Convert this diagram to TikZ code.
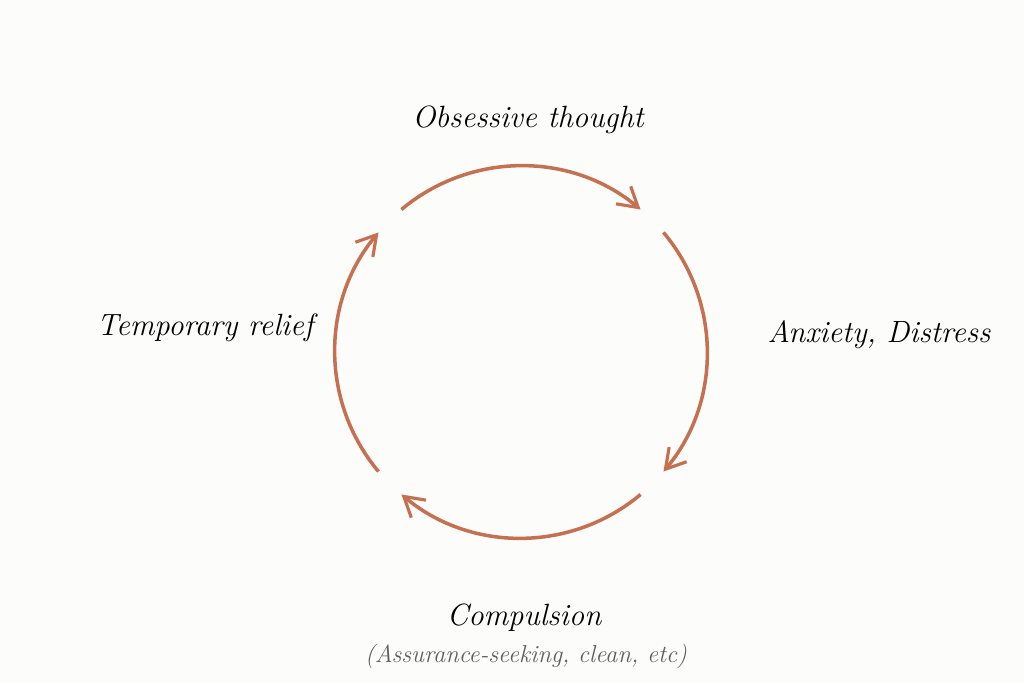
\documentclass[tikz,border=0pt]{standalone}
\usepackage{tikz}
\usetikzlibrary{arrows.meta}
\definecolor{cyccol}{RGB}{198,112,82}
\definecolor{paper}{RGB}{252,252,251}
\definecolor{note}{RGB}{95,95,95}

\begin{document}
\begin{tikzpicture}[x=0.02cm,y=0.02cm,
  cyc/.style={line width=2pt,draw=cyccol,-{Straight Barb[length=11pt,width=13pt,line width=1.8pt]}},
  lbl/.style={font=\itshape\fontsize{17.5}{20}\selectfont,text=black}]
\fill[paper] (0,0) rectangle (1024,683);
\useasboundingbox (0,0) rectangle (1024,683);
\coordinate (c) at (521,331);
\node[lbl] (obs) at (528,563) {Obsessive thought};
\node[lbl] (anx) at (879,348) {Anxiety, Distress};
\node[lbl] (rel) at (205,355) {Temporary relief};
\node[lbl] (com) at (524,65) {Compulsion};
\node[font=\itshape\fontsize{14}{16}\selectfont,text=note] (ex) at (526,27) {(Assurance-seeking, clean, etc)};
\draw[cyc] (c) ++(130:186) arc[start angle=130,end angle=50,radius=186];
\draw[cyc] (c) ++(40:186) arc[start angle=40,end angle=-40,radius=186];
\draw[cyc] (c) ++(-50:186) arc[start angle=-50,end angle=-130,radius=186];
\draw[cyc] (c) ++(220:186) arc[start angle=220,end angle=140,radius=186];
\end{tikzpicture}
\end{document}
